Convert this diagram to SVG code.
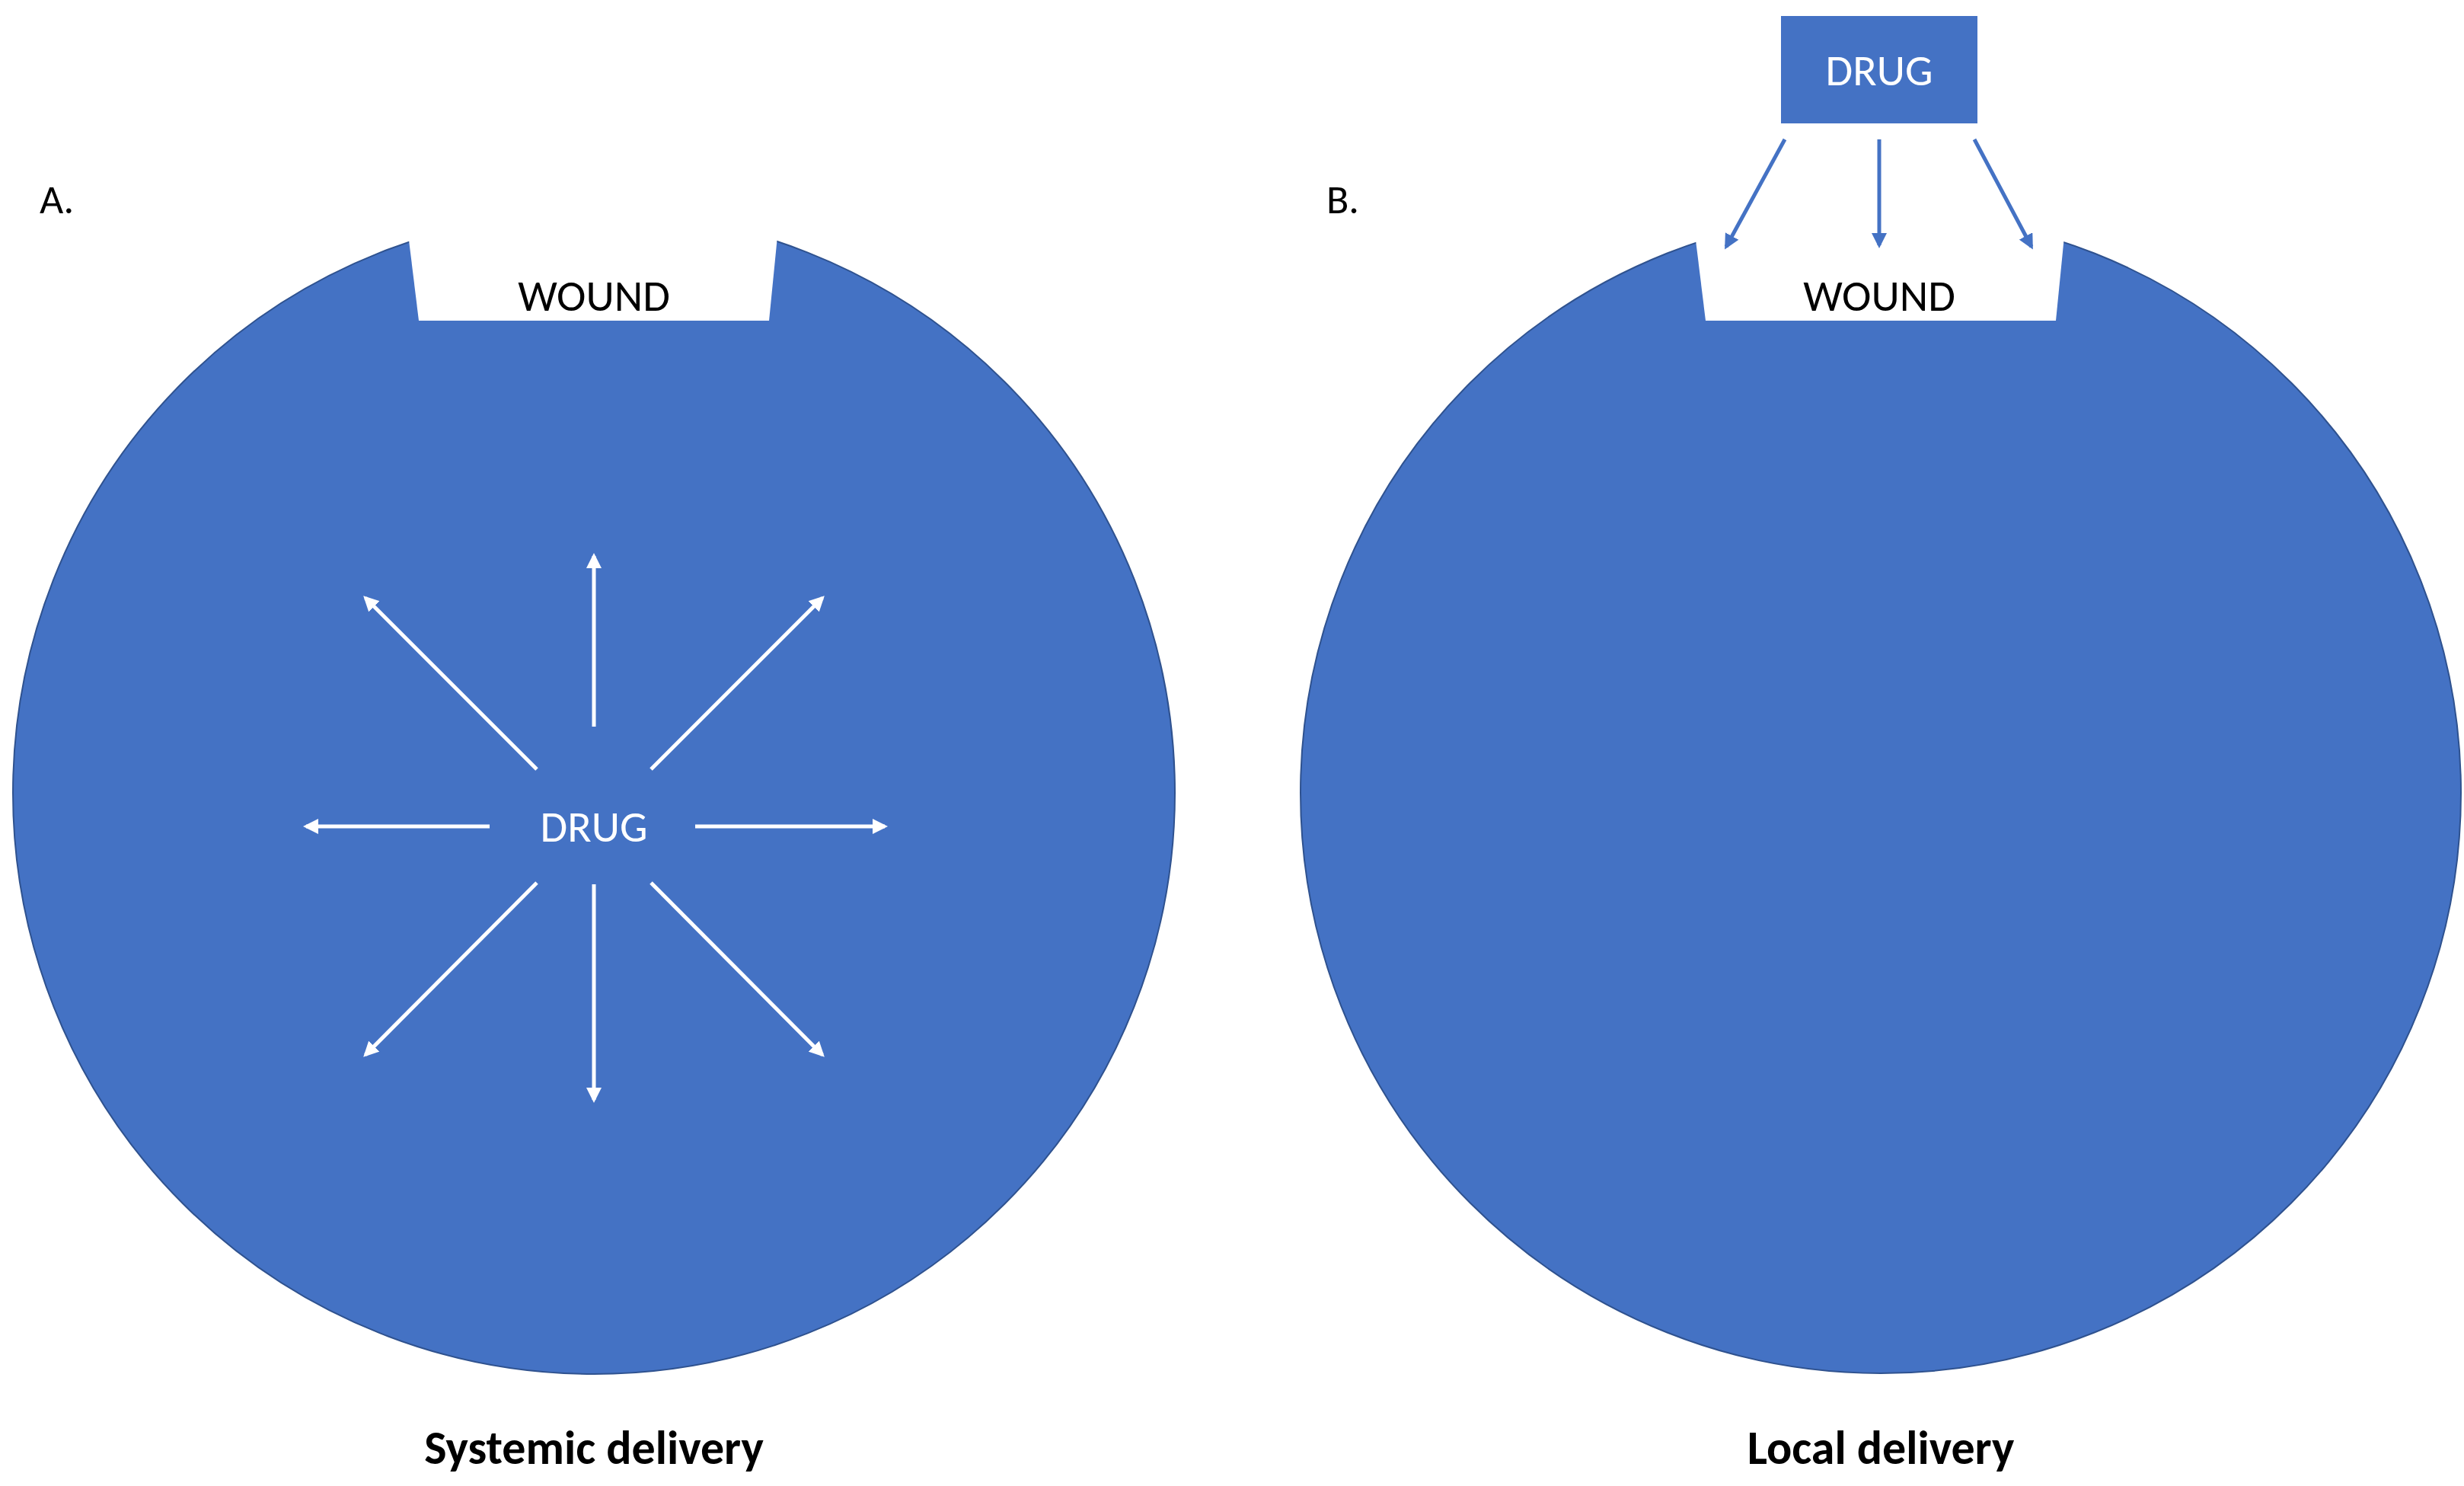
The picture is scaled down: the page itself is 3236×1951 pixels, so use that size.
<svg xmlns="http://www.w3.org/2000/svg" width="3236" height="1951" viewBox="0 0 3236 1951">
<style>
.t{font-family:Calibri,"Liberation Sans",Arial,sans-serif;text-anchor:middle}
.w{stroke:#fff;stroke-width:5;fill:none}
.b{stroke:#4472C4;stroke-width:5;fill:none}
</style>
<defs>
<marker id="mw" viewBox="0 0 10 10" refX="8" refY="5" markerWidth="4" markerHeight="4" orient="auto"><path d="M0,0L10,5L0,10z" fill="#fff"/></marker>
<marker id="mb" viewBox="0 0 10 10" refX="8" refY="5" markerWidth="4" markerHeight="4" orient="auto"><path d="M0,0L10,5L0,10z" fill="#4472C4"/></marker>
</defs>
<rect width="3236" height="1951" fill="#fff"/>
<g id="bodyA">
<circle cx="780" cy="1041" r="763" fill="#4472C4" stroke="#2F528F" stroke-width="2"/>
<polygon points="529,250 1027,250 1010,421 550,421" fill="#fff"/>
<text class="t" x="780" y="408" font-size="58">WOUND</text>
<text class="t" x="780" y="1105" font-size="58" fill="#fff">DRUG</text>
</g>
<g id="bodyB">
<circle cx="2470" cy="1041" r="762" fill="#4472C4" stroke="#2F528F" stroke-width="2"/>
<polygon points="2219,250 2717,250 2700,421 2240,421" fill="#fff"/>
<text class="t" x="2468" y="408" font-size="58">WOUND</text>
</g>
<g id="drugbox">
<rect x="2339" y="21" width="258" height="141" fill="#4472C4"/>
<text class="t" x="2468" y="112" font-size="58" fill="#fff">DRUG</text>
</g>
<g id="labels">
<text x="52" y="280" font-size="54" font-family="Calibri,'Liberation Sans',sans-serif">A.</text>
<text x="1742" y="280" font-size="54" font-family="Calibri,'Liberation Sans',sans-serif">B.</text>
<text class="t" x="780" y="1922" font-size="62" font-weight="bold">Systemic delivery</text>
<text class="t" x="2470" y="1922" font-size="62" font-weight="bold">Local delivery</text>
</g>
<g id="connectors">
<line class="w" x1="780" y1="954" x2="780" y2="730" marker-end="url(#mw)"/>
<line class="w" x1="780" y1="1161" x2="780" y2="1444" marker-end="url(#mw)"/>
<line class="w" x1="643" y1="1085" x2="402" y2="1085" marker-end="url(#mw)"/>
<line class="w" x1="913" y1="1085" x2="1162" y2="1085" marker-end="url(#mw)"/>
<line class="w" x1="705" y1="1010" x2="480" y2="785" marker-end="url(#mw)"/>
<line class="w" x1="855" y1="1010" x2="1080" y2="785" marker-end="url(#mw)"/>
<line class="w" x1="705" y1="1159" x2="480" y2="1385" marker-end="url(#mw)"/>
<line class="w" x1="855" y1="1159" x2="1080" y2="1385" marker-end="url(#mw)"/>
<line class="b" x1="2344" y1="183" x2="2267" y2="324" marker-end="url(#mb)"/>
<line class="b" x1="2468" y1="183" x2="2468" y2="322" marker-end="url(#mb)"/>
<line class="b" x1="2593" y1="183" x2="2668" y2="324" marker-end="url(#mb)"/>
</g>
</svg>
